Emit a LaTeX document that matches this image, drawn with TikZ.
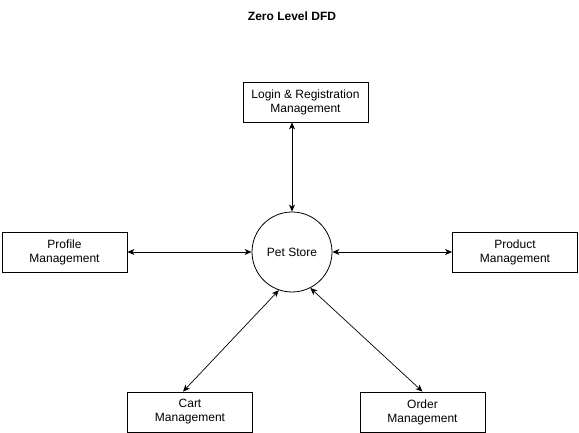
\documentclass[tikz,border=0pt]{standalone}
\usepackage{fontspec}
\setmainfont{Liberation Sans}
\usetikzlibrary{arrows.meta}
\begin{document}
\begin{tikzpicture}[x=1pt,y=-1pt,
  box/.style={draw,line width=0.8pt,minimum width=125pt,minimum height=40pt,inner sep=0pt,align=center,font=\fontsize{12}{14}\selectfont},
  proc/.style={draw,circle,line width=0.8pt,minimum size=80pt,inner sep=0pt,font=\fontsize{12}{14}\selectfont},
  flow/.style={line width=0.7pt,{Stealth[length=7pt,width=6pt,inset=2pt]}-{Stealth[length=7pt,width=6pt,inset=2pt]}}]
\useasboundingbox (0,0) rectangle (579,433);
\node[font=\bfseries\fontsize{12}{14}\selectfont] (title) at (292,16) {Zero Level DFD};
\node[proc] (ps) at (292,252) {Pet Store};
\node[box] (login) at (305.5,102) {Login \& Registration\\Management};
\node[box] (profile) at (64.5,252) {Profile\\Management};
\node[box] (product) at (515,252) {Product\\Management};
\node[box] (cart) at (190,412) {Cart\\Management};
\node[box] (order) at (422.5,412) {Order\\Management};
\draw[flow] (login.south -| ps.north) -- (ps.north);
\draw[flow] (profile.east) -- (ps.west);
\draw[flow] (ps.east) -- (product.west);
\draw[flow] (ps.251) -- ([xshift=-7pt]cart.north);
\draw[flow] (ps.297) -- (order.north);
\end{tikzpicture}
\end{document}
